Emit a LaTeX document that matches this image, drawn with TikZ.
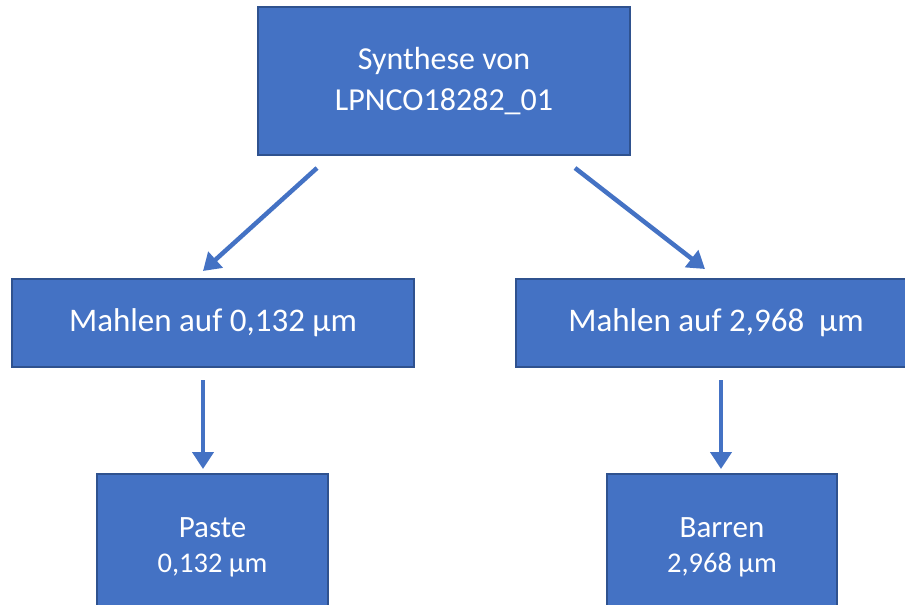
\documentclass[tikz,border=0pt]{standalone}
\usepackage{fontspec}
\setmainfont{Carlito}
\usetikzlibrary{arrows.meta}
\definecolor{boxfill}{HTML}{4472C4}
\definecolor{boxline}{HTML}{2F528F}
\begin{document}
\begin{tikzpicture}[x=1pt,y=-1pt,
  box/.style={draw=boxline, line width=1.2pt, fill=boxfill, text=white, align=center, inner sep=0pt, anchor=center},
  conn/.style={draw=boxfill, line width=4.5pt, -{Triangle[length=17pt,width=21pt]}}]
\useasboundingbox (0,0) rectangle (905,605);
\clip (0,0) rectangle (905,605);
\node[box, minimum width=372pt, minimum height=148pt, font=\fontsize{32}{41}\selectfont] (top) at (444,81) {\raisebox{0pt}{Synthese von}\\LPNCO18282\_01};
\node[box, minimum width=402pt, minimum height=88pt, font=\fontsize{33}{40}\selectfont] (ml) at (213,323) {Mahlen auf 0,132 µm};
\node[box, minimum width=400pt, minimum height=88pt, font=\fontsize{33}{40}\selectfont] (mr) at (716,323) {Mahlen auf 2,968 \ µm};
\node[box, minimum width=231pt, minimum height=146pt, font=\fontsize{31}{35}\selectfont] (bl) at (212.5,547) {Paste\\{\fontsize{28.5}{35}\selectfont 0,132 µm}};
\node[box, minimum width=230pt, minimum height=146pt, font=\fontsize{31}{35}\selectfont] (br) at (722,547) {Barren\\{\fontsize{28.5}{35}\selectfont 2,968 µm}};
\coordinate (a1s) at (317,168);
\coordinate (a1e) at (203,271);
\coordinate (a2s) at (575,168);
\coordinate (a2e) at (705,269);
\coordinate (a3s) at (203,380);
\coordinate (a3e) at (203,469);
\coordinate (a4s) at (721,380);
\coordinate (a4e) at (721,469);
\draw[conn] (a1s) -- (a1e);
\draw[conn] (a2s) -- (a2e);
\draw[conn] (a3s) -- (a3e);
\draw[conn] (a4s) -- (a4e);
\end{tikzpicture}
\end{document}
